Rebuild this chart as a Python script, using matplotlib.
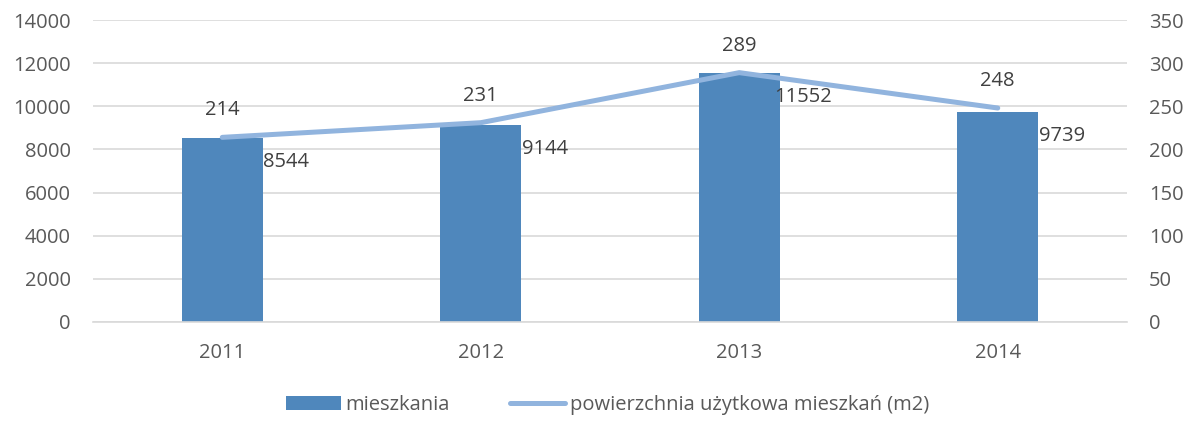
import matplotlib
matplotlib.use("Agg")
import matplotlib.pyplot as plt
from matplotlib.lines import Line2D
from matplotlib.patches import Patch

years = ["2011", "2012", "2013", "2014"]
mieszkania = [8544, 9144, 11552, 9739]
powierzchnia = [214, 231, 289, 248]

left_ticks = [0, 2000, 4000, 6000, 8000, 10000, 12000, 14000]
right_ticks = [0, 50, 100, 150, 200, 250, 300, 350]

BAR_COLOR = "#4F87BC"
LINE_COLOR = "#91B4DE"
TEXT_COLOR = "#595959"
LABEL_COLOR = "#404040"
GRID_COLOR = "#D9D9D9"
FS = 14.5

plt.rcParams["font.family"] = ["Open Sans", "DejaVu Sans"]
plt.rcParams["font.size"] = FS

fig = plt.figure(figsize=(11.96, 4.23), dpi=100)
ax = fig.add_axes([0.0778, 0.2388, 0.8645, 0.7139])
ax2 = ax.twinx()

x = list(range(len(years)))
ax.bar(x, mieszkania, width=0.315, color=BAR_COLOR, zorder=2)
ax.set_xlim(-0.5, len(years) - 0.5)
ax.set_ylim(0, 14000)
ax.set_yticks(left_ticks)
ax.set_xticks(x)
ax.set_xticklabels(years)
ax.grid(axis="y", color=GRID_COLOR, linewidth=1.2, zorder=0)
ax.set_axisbelow(True)

ax2.plot(x, powierzchnia, color=LINE_COLOR, linewidth=3.6,
         solid_capstyle="round", zorder=3)
ax2.set_ylim(0, 350)
ax2.set_yticks(right_ticks)

for a in (ax, ax2):
    for s in a.spines.values():
        s.set_visible(False)
    a.tick_params(length=0, colors=TEXT_COLOR, labelsize=FS)
ax.spines["bottom"].set_visible(True)
ax.spines["bottom"].set_color(GRID_COLOR)
ax.spines["bottom"].set_linewidth(1.2)
ax.tick_params(axis="y", pad=16)
ax.tick_params(axis="x", pad=15)
ax2.tick_params(axis="y", pad=16)

# bar value labels, to the right of each bar top
for xi, v in zip(x, mieszkania):
    ax.annotate(str(v), (xi, v), xytext=(64, -24), textcoords="offset pixels",
                ha="center", va="center", color=LABEL_COLOR, fontsize=FS, zorder=5)

# line value labels, above each point
for xi, v in zip(x, powierzchnia):
    ax2.annotate(str(v), (xi, v), xytext=(0, 27), textcoords="offset pixels",
                 ha="center", va="center", color=LABEL_COLOR, fontsize=FS, zorder=5)

handles = [Patch(facecolor=BAR_COLOR, edgecolor="none"),
           Line2D([0], [0], color=LINE_COLOR, linewidth=3.6, solid_capstyle="round")]
labels = ["mieszkania", "powierzchnia użytkowa mieszkań (m2)"]
leg = fig.legend(handles, labels, loc="center", bbox_to_anchor=(0.508, 0.043),
                 ncol=2, frameon=False, fontsize=FS, handlelength=2.7,
                 handletextpad=0.25, columnspacing=3.0)
for t in leg.get_texts():
    t.set_color(TEXT_COLOR)

fig.savefig("out.png", dpi=100)
